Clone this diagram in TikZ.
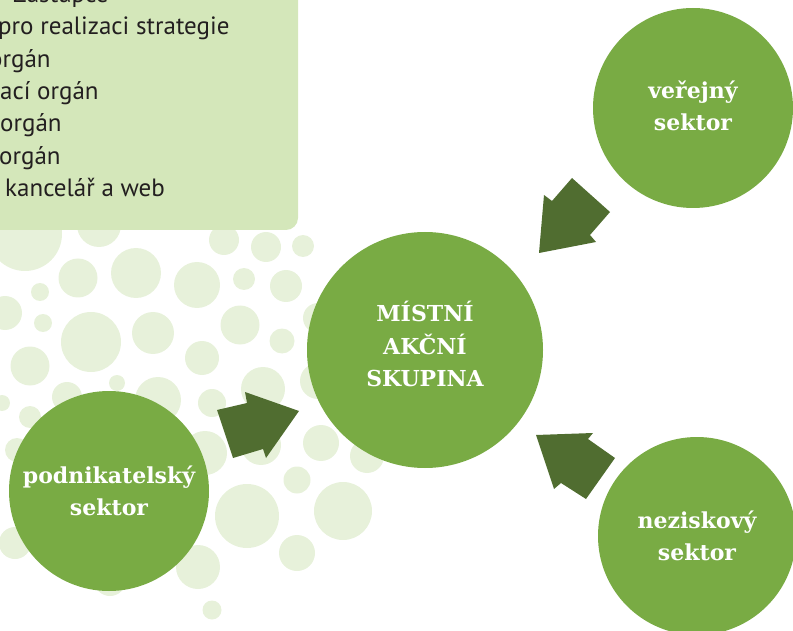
\documentclass[tikz,border=0pt]{standalone}
\usepackage{fontspec}
\setmainfont{PT Sans}
\newfontfamily\slab{DejaVu Serif}
\definecolor{dotc}{HTML}{E7F1DA}
\definecolor{boxc}{HTML}{D4E7BA}
\definecolor{circc}{HTML}{79AB44}
\definecolor{arrc}{HTML}{506D30}
\definecolor{txtc}{HTML}{231F20}
\tikzset{
  bigcirc/.style={circle, fill=circc, inner sep=0pt},
  circtext/.style={inner sep=0pt, align=center, text=white,
    font=\slab\bfseries\fontsize{22}{32.5}\selectfont},
  blockarrow/.style={fill=arrc},
  listtext/.style={anchor=base west, inner sep=0pt, text=txtc, font=\fontsize{25}{28}\selectfont},
}
\begin{document}
\begin{tikzpicture}[x=1pt,y=-1pt]
\useasboundingbox (0,0) rectangle (793,631);
\clip (0,0) rectangle (793,631);
% background dots
\foreach \cx/\cy/\r in {25/234/37, 99/225/22, 78/278/19.5, 136/273/25, 40/292/9, 5/313/17,
  43/323/9, 91/342/30, 30/366/19.5, 153/333/21, 197/285/23, 224/240/15, 266/247/15,
  303/246/11, 244/279/11, 286/286/16, 240/325/19.5, 282/341/12.5, 202/358/17, 117/383/8,
  158/400/23, 67/397/15, 2/403/8, 30/417/11, 263/389/22, 212/403/14, 17/450/12,
  205/453/22, 261/445/20, 321/443/18, 297/480/13.5, 247/516/32, 343/511/29, 297/553/18,
  15/543/16, 198/567/22, 110/580/16, 212/610/9.5, 318/318/15, 318/381/18, 367/456/17}
  \fill[dotc] (\cx,\cy) circle (\r pt);
% text box
\fill[boxc, rounded corners=12pt] (-30,-30) rectangle (298,230);
\node[listtext] (l1) at (13,3) {Zástupce};
\node[listtext] (l2) at (-2,35) {pro realizaci strategie};
\node[listtext] (l3) at (-11,68) {orgán};
\node[listtext] (l4) at (0,100) {ací orgán};
\node[listtext] (l5) at (0,132) {orgán};
\node[listtext] (l6) at (-1,165) {orgán};
\node[listtext] (l7) at (5,197) {kancelář a web};
% circles
\node[bigcirc, minimum size=236pt] (mas) at (425,350) {};
\node[bigcirc, minimum size=200pt] (ver) at (693,108) {};
\node[bigcirc, minimum size=200pt] (pod) at (109,491) {};
\node[bigcirc, minimum size=198pt] (nez) at (697,536) {};
\node[circtext] (mast) at ([yshift=6pt]mas.center) {MÍSTNÍ\\AKČNÍ\\SKUPINA};
\node[circtext] (vert) at ([yshift=2pt]ver.center) {veřejný\\sektor};
\node[circtext] (podt) at (pod.center) {podnikatelský\\sektor};
\node[circtext] (nezt) at (nez.center) {neziskový\\sektor};
% block arrows
\fill[blockarrow] (299,411) -- (266,458) -- (263,449) -- (233,458) -- (217,410) -- (247,403) -- (245,392) -- cycle;
\fill[blockarrow] (539,253) -- (544,195) -- (552,201) -- (572,178) -- (610,212) -- (590,235) -- (596,242) -- cycle;
\fill[blockarrow] (536,435) -- (593,433) -- (588,439) -- (615,458) -- (586,499) -- (561,483) -- (554,489) -- cycle;
\end{tikzpicture}
\end{document}
